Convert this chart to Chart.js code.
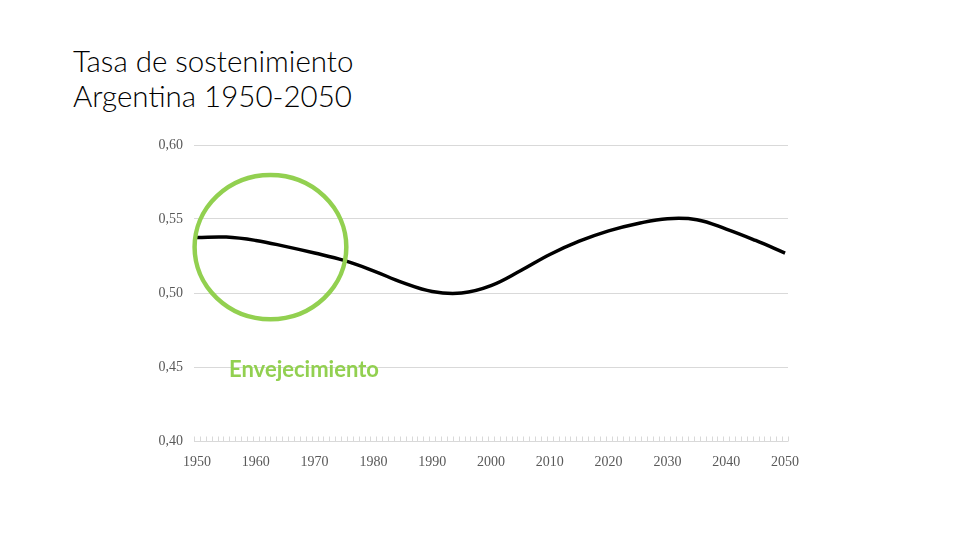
<!DOCTYPE html>
<html lang="es">
<head>
<meta charset="UTF-8">
<title>Tasa de sostenimiento Argentina 1950-2050</title>
<script src="https://cdn.jsdelivr.net/npm/chart.js@4.4.1/dist/chart.umd.min.js"></script>
<style>
  html, body { margin: 0; padding: 0; background: #fff; }
  #wrap { position: relative; width: 960px; height: 540px; }
  #title {
    position: absolute; left: 73px; top: 43px;
    font-family: 'Lato', sans-serif; font-weight: 300;
    font-size: 29.5px; line-height: 35px; color: #000;
  }
  canvas { position: absolute; left: 0; top: 0; }
</style>
</head>
<body>
<div id="wrap">
  <div id="title">Tasa de sostenimiento<br>Argentina 1950-2050</div>
  <canvas id="chart" width="960" height="540"></canvas>
</div>

<script>
  // one category per year, 1950..2050
  const years = Array.from({ length: 101 }, (_, i) => String(1950 + i));
  // years shown on the axis
  const tickYears = ['1950', '1960', '1970', '1980', '1990', '2000', '2010', '2020', '2030', '2040', '2050'];
  // y ticks
  const yTicks = [0.40, 0.45, 0.50, 0.55, 0.60];

  // values, every 5 years
  const sampleYears = ['1950', '1955', '1960', '1965', '1970', '1975', '1980', '1985', '1990', '1995', '2000',
    '2005', '2010', '2015', '2020', '2025', '2030', '2035', '2040', '2045', '2050'];
  const ratio = [0.5375, 0.5378, 0.5355, 0.5315, 0.527, 0.522, 0.515, 0.507, 0.501, 0.5, 0.505,
    0.515, 0.526, 0.535, 0.542, 0.547, 0.5502, 0.5495, 0.5432, 0.5355, 0.527];

  const green = '#92d050';

  // little year ticks sitting on the bottom gridline
  const minorTicks = {
    id: 'minorTicks',
    beforeDatasetsDraw(chart) {
      const x = chart.scales.x, y = chart.scales.y, ctx = chart.ctx;
      const bottom = Math.round(y.getPixelForValue(yTicks[0])) + 0.5;
      ctx.save();
      ctx.strokeStyle = '#d9d9d9';
      ctx.lineWidth = 1;
      ctx.beginPath();
      for (let i = 0; i <= years.length; i++) {
        const px = Math.round(x.getPixelForValue(i - 0.5)) + 0.5;
        ctx.moveTo(px, bottom);
        ctx.lineTo(px, bottom - 5);
      }
      ctx.stroke();
      ctx.restore();
    }
  };

  // green circle + label, placed in data units
  const note = {
    id: 'note',
    afterDatasetsDraw(chart) {
      const x = chart.scales.x, y = chart.scales.y, ctx = chart.ctx;
      const cx = x.getPixelForValue(12.5), cy = y.getPixelForValue(0.531);
      const rx = x.getPixelForValue(12.9) - x.getPixelForValue(0);
      const ry = y.getPixelForValue(0.50) - y.getPixelForValue(0.5487);
      ctx.save();
      ctx.strokeStyle = green;
      ctx.lineWidth = 4.5;
      ctx.beginPath();
      ctx.ellipse(cx, cy, rx, ry, 0, 0, Math.PI * 2);
      ctx.stroke();
      ctx.fillStyle = green;
      ctx.font = "bold 22px 'Lato', sans-serif";
      ctx.textAlign = 'center';
      ctx.textBaseline = 'middle';
      ctx.fillText('Envejecimiento', x.getPixelForValue(18.2), y.getPixelForValue(0.448));
      ctx.restore();
    }
  };

  const ctx = document.getElementById('chart');

  new Chart(ctx, {
    type: 'line',
    data: {
      labels: years,
      datasets: [{
        data: sampleYears.map((yr, i) => ({ x: yr, y: ratio[i] })),
        borderColor: '#000',
        borderWidth: 3.5,
        pointRadius: 0,
        tension: 0.4,
        fill: false
      }]
    },
    options: {
      responsive: false,
      animation: false,
      devicePixelRatio: 1,
      layout: { padding: { left: 0, right: 172, top: 145, bottom: 0 } },
      plugins: {
        legend: { display: false },
        tooltip: { enabled: false }
      },
      scales: {
        x: {
          type: 'category',
          offset: true,
          grid: { display: false },
          border: { display: false },
          afterFit: (s) => { s.height = 99; },
          ticks: {
            autoSkip: false,
            maxRotation: 0,
            padding: 5,
            color: '#595959',
            font: { family: "'Liberation Serif', serif", size: 14 },
            callback: function (val) {
              const lbl = this.getLabelForValue(val);
              return tickYears.includes(lbl) ? lbl : null;
            }
          }
        },
        y: {
          min: yTicks[0],
          max: yTicks[yTicks.length - 1],
          afterFit: (s) => { s.width = 194; },
          afterBuildTicks: (s) => { s.ticks = yTicks.map(v => ({ value: v })); },
          grid: { color: '#d9d9d9', lineWidth: 1, drawTicks: false },
          border: { display: false },
          ticks: {
            padding: 11,
            color: '#595959',
            font: { family: "'Liberation Serif', serif", size: 14 },
            callback: (v) => v.toFixed(2).replace('.', ',')
          }
        }
      }
    },
    plugins: [minorTicks, note]
  });
</script>
</body>
</html>
